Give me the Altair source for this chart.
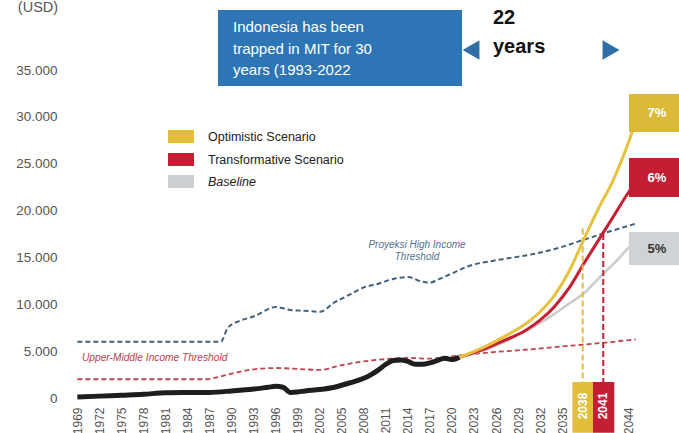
import altair as alt
import pandas as pd

# ---------------- data ----------------
hist_years = [1969, 1972, 1975, 1978, 1981, 1984, 1987, 1990, 1993, 1995, 1996, 1997,
              1998, 1999, 2000, 2002, 2004, 2006, 2008, 2009, 2010, 2011, 2012, 2013,
              2014, 2015, 2016, 2017, 2018, 2019, 2020, 2021]
hist_gdp = [100, 200, 300, 400, 550, 580, 600, 750, 950, 1150, 1250, 1150,
            600, 650, 750, 900, 1150, 1600, 2100, 2500, 3000, 3600, 4000, 4050,
            3900, 3600, 3600, 3750, 4000, 4250, 4100, 4350]

scen_years = [2021, 2024, 2027, 2030, 2032, 2034, 2036, 2038, 2040, 2042, 2044, 2045]
optimistic = [4350, 5300, 6500, 7900, 9200, 11000, 13600, 17000, 20300, 23300, 27200, 29500]
transformative = [4350, 5100, 6100, 7200, 8300, 9800, 11800, 14400, 16900, 19400, 21900, 23000]
baseline = [4350, 5000, 5950, 7100, 8000, 9000, 10100, 11200, 12800, 14300, 16000, 16700]

high_years = [1969, 1988.5, 1989.5, 1991, 1993, 1996, 1998, 2000, 2002, 2004, 2006, 2008,
              2010, 2012, 2014, 2016, 2017, 2018, 2020, 2022, 2026, 2030, 2034, 2038, 2042, 2045]
high_threshold = [6000, 6000, 7500, 8200, 8700, 9700, 9400, 9300, 9200, 10200, 11000, 11800,
                  12200, 12700, 12900, 12400, 12300, 12600, 13300, 14000, 14700, 15200, 15900,
                  16900, 17900, 18600]

umid_years = [1969, 1986.5, 1988, 1990, 1992, 1996, 1999, 2002, 2005, 2008, 2011, 2014,
              2017, 2020, 2025, 2030, 2035, 2040, 2045]
umid_threshold = [2000, 2000, 2200, 2600, 2950, 3200, 3100, 3000, 3500, 3900, 4150, 4270,
                  4200, 4450, 4850, 5150, 5500, 5850, 6250]

tick_years = [y for y in range(1969, 2045, 3) if y not in (2038, 2041)]
y_ticks = [0, 5000, 10000, 15000, 20000, 25000, 30000, 35000]

mark_years = [2037.8, 2040.6]           # high-income crossing years (vertical guides)
mark_tops = [18100, 17500]
mark_labels = ["2038", "2041"]
mark_colors = ["#E2BE3C", "#C41E34"]

legend_labels = ["Optimistic Scenario", "Transformative Scenario", "Baseline"]
legend_colors = ["#E2BE3C", "#C41E34", "#CDD0D2"]
rate_labels = ["7%", "6%", "5%"]

# ---------------- helpers ----------------
FONT = "Liberation Sans"
xs = alt.Scale(domain=[1968, 2045.6], nice=False, zero=False)
ys = alt.Scale(domain=[0, 35000], nice=False)
x_axis = alt.Axis(values=tick_years, labelAngle=-90, labelColor="#555555", labelFontSize=12,
                  labelFont=FONT, domain=False, ticks=False, grid=False, labelPadding=9,
                  title=None, labelExpr="datum.value", labelOverlap=False)
y_axis = alt.Axis(values=y_ticks, labelColor="#555555", labelFontSize=13.5, labelFont=FONT,
                  domain=False, ticks=False, grid=False, labelPadding=13, title=None,
                  labelExpr="replace(format(datum.value, ','), ',', '.')")

one = pd.DataFrame({"d": [0]})


def X(field):
    return alt.X(field, scale=xs, axis=x_axis)


def Y(field):
    return alt.Y(field, scale=ys, axis=y_axis)


def series_df(years, vals):
    return pd.DataFrame({"year": years, "value": vals})


def line_layer(df, color, width, dash=None):
    kw = dict(color=color, strokeWidth=width, interpolate="monotone", clip=False)
    if dash:
        kw["strokeDash"] = dash
    return alt.Chart(df).mark_line(**kw).encode(x=X("year:Q"), y=Y("value:Q"))


def px_text(text, x, y, **kw):
    return alt.Chart(pd.DataFrame({"t": [text]})).mark_text(font=FONT, **kw).encode(
        x=alt.value(x), y=alt.value(y), text="t:N")


def px_rect(x, x2, y, y2, color):
    return alt.Chart(one).mark_rect(color=color).encode(
        x=alt.value(x), x2=alt.value(x2), y=alt.value(y), y2=alt.value(y2))


layers = []
# thresholds
layers.append(line_layer(series_df(high_years, high_threshold), "#3F627F", 2, [5, 3]))
layers.append(line_layer(series_df(umid_years, umid_threshold), "#C04450", 1.8, [5, 3]))
# scenarios
layers.append(line_layer(series_df(scen_years, baseline), "#CBCBCB", 2.5))
layers.append(line_layer(series_df(scen_years, transformative), "#C81E32", 3))
layers.append(line_layer(series_df(scen_years, optimistic), "#E6C23E", 3))
# history
layers.append(line_layer(series_df(hist_years, hist_gdp), "#1E1E1E", 5))

# vertical guides and year boxes
for yr, top, lab, col in zip(mark_years, mark_tops, mark_labels, mark_colors):
    d = pd.DataFrame({"year": [yr], "top": [top], "bot": [1700],
                      "x1": [yr - 1.4], "x2": [yr + 1.5], "yb": [-3700], "lab": [lab]})
    layers.append(alt.Chart(d).mark_rule(color=col, strokeWidth=2, strokeDash=[6, 3]).encode(
        x=X("year:Q"), y=Y("top:Q"), y2="bot:Q"))
    layers.append(alt.Chart(d).mark_rect(color=col, clip=False).encode(
        x=X("x1:Q"), x2="x2:Q", y=Y("bot:Q"), y2="yb:Q"))
    layers.append(alt.Chart(d).mark_text(font=FONT, fontSize=12, fontWeight="bold", color="white",
                                         angle=270, align="center", baseline="middle").encode(
        x=X("year:Q"), y=alt.value(336), text="lab:N"))

# threshold labels
layers.append(px_text("Upper-Middle Income Threshold", 12, 288, fontSize=10.2, fontStyle="italic",
                      color="#B5424C", align="left", baseline="middle"))
layers.append(px_text("Proyeksi High Income", 347, 175, fontSize=10, fontStyle="italic",
                      color="#4E7291", align="center", baseline="middle"))
layers.append(px_text("Threshold", 347, 187, fontSize=10, fontStyle="italic",
                      color="#4E7291", align="center", baseline="middle"))

# legend
for i, (lab, col) in enumerate(zip(legend_labels, legend_colors)):
    y0 = [60, 83, 105][i]
    layers.append(px_rect(98, 124, y0, y0 + 13, col))
    layers.append(px_text(lab, 138, y0 + 6.5, fontSize=12.5, color="#222222", align="left",
                          baseline="middle", fontStyle="italic" if lab == "Baseline" else "normal"))

# right-hand growth rate boxes
for (y0, y1, col, tcol), lab in zip([(24, 62, "#DDB93A", "white"), (88, 127, "#C41E34", "white"),
                                     (162, 195, "#D0D3D5", "#333333")], rate_labels):
    layers.append(px_rect(559, 609, y0, y1, col))
    layers.append(px_text(lab, 587, (y0 + y1) / 2, fontSize=13, fontWeight="bold", color=tcol,
                          align="center", baseline="middle"))

# (USD)
layers.append(px_text("(USD)", -32, -62, fontSize=14.5, color="#555555", align="center",
                      baseline="middle"))

# annotation box
layers.append(px_rect(148, 392, -60, 16, "#2E75B6"))
layers.append(alt.Chart(pd.DataFrame({"t": ["Indonesia has been\ntrapped in MIT for 30\nyears (1993-2022"]}))
              .mark_text(font=FONT, fontSize=15, color="white", align="left", baseline="middle",
                         lineBreak="\n", lineHeight=21.5)
              .encode(x=alt.value(163), y=alt.value(-43), text="t:N"))

# arrows and "22 years"
layers.append(alt.Chart(one).mark_point(shape="triangle-left", filled=True, size=380,
                                        color="#2E6FA7", opacity=1).encode(
    x=alt.value(401), y=alt.value(-20)))
layers.append(alt.Chart(one).mark_point(shape="triangle-right", filled=True, size=380,
                                        color="#2E6FA7", opacity=1).encode(
    x=alt.value(541), y=alt.value(-20)))
layers.append(px_text("22", 423, -52, fontSize=20, fontWeight="bold", color="#111111",
                      align="left", baseline="middle"))
layers.append(px_text("years", 423, -23, fontSize=20, fontWeight="bold", color="#111111",
                      align="left", baseline="middle"))

chart = alt.layer(*layers).properties(
    width=570, height=328,
    autosize=alt.AutoSizeParams(type="none"),
    padding={"left": 70, "top": 70, "right": 39, "bottom": 35},
    background="white",
).configure_view(stroke=None)

chart.save("out.html", embed_options={"renderer": "svg", "actions": False})
